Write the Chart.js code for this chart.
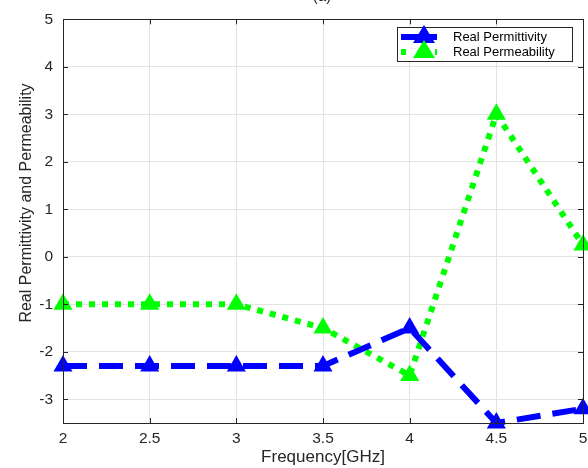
<!DOCTYPE html>
<html>
<head>
<meta charset="utf-8">
<script src="https://cdn.jsdelivr.net/npm/chart.js@4.4.1/dist/chart.umd.min.js"></script>
<style>
  html, body { margin: 0; padding: 0; background: #fff; overflow: hidden; }
  #wrap { width: 600px; height: 468px; }
</style>
</head>
<body>
<div id="wrap"><canvas id="chartCanvas" width="600" height="468"></canvas></div>
<script>
// data
const frequency = [2, 2.5, 3, 3.5, 4, 4.5, 5];
const permittivity = [-2.3, -2.3, -2.3, -2.3, -1.5, -3.5, -3.2];
const permeability = [-1, -1, -1, -1.5, -2.5, 3, 0.25];
const xTicks = [2, 2.5, 3, 3.5, 4, 4.5, 5];
const yTicks = [-3, -2, -1, 0, 1, 2, 3, 4, 5];
const yLabel = "Real Permittivity and Permeability";

const FONT = "'Liberation Sans', Arial, sans-serif";
const AXIS = "#262626";

// box around plot + inward ticks, like matlab
const boxPlugin = {
  id: "box",
  afterDatasetsDraw(chart) {
    const { ctx, chartArea: a, scales } = chart;
    ctx.save();
    ctx.strokeStyle = AXIS;
    ctx.lineWidth = 1;
    ctx.beginPath();
    xTicks.forEach(v => {
      const x = Math.round(scales.x.getPixelForValue(v)) + 0.5;
      ctx.moveTo(x, a.bottom); ctx.lineTo(x, a.bottom - 5);
      ctx.moveTo(x, a.top); ctx.lineTo(x, a.top + 5);
    });
    yTicks.forEach(v => {
      const y = Math.round(scales.y.getPixelForValue(v)) + 0.5;
      ctx.moveTo(a.left, y); ctx.lineTo(a.left + 5, y);
      ctx.moveTo(a.right, y); ctx.lineTo(a.right - 5, y);
    });
    ctx.stroke();
    ctx.strokeRect(Math.round(a.left) + 0.5, Math.round(a.top) + 0.5,
      Math.round(a.right - a.left), Math.round(a.bottom - a.top));
    ctx.fillStyle = AXIS;
    ctx.textAlign = "center";
    ctx.textBaseline = "middle";
    // title, cut off at the top of the figure
    ctx.font = "15px " + FONT;
    ctx.fillText("(a)", 322, -3);
    // y axis label (sits a bit above the axes centre in the original)
    ctx.font = "16px " + FONT;
    ctx.translate(27, 203);
    ctx.rotate(-Math.PI / 2);
    ctx.fillText(yLabel, 0, 0);
    ctx.restore();
  }
};

// legend box drawn inside the plot, top right
const legendPlugin = {
  id: "boxLegend",
  afterDraw(chart) {
    const { ctx } = chart;
    const x0 = 397, y0 = 27, w = 175, h = 34;
    ctx.save();
    ctx.fillStyle = "#fff";
    ctx.fillRect(x0, y0, w, h);
    ctx.strokeStyle = AXIS;
    ctx.lineWidth = 1;
    ctx.strokeRect(x0 + 0.5, y0 + 0.5, w, h);
    chart.data.datasets.forEach((ds, i) => {
      const y = y0 + 10 + i * 15;
      ctx.strokeStyle = ds.borderColor;
      ctx.lineWidth = 6;
      ctx.setLineDash(i === 0 ? [] : [5, 12]);
      ctx.beginPath();
      ctx.moveTo(x0 + 4, y); ctx.lineTo(x0 + 40, y);
      ctx.stroke();
      ctx.setLineDash([]);
      ctx.fillStyle = ds.borderColor;
      ctx.beginPath();
      ctx.moveTo(x0 + 27, y - 12);
      ctx.lineTo(x0 + 38, y + 6);
      ctx.lineTo(x0 + 16, y + 6);
      ctx.closePath();
      ctx.fill();
      ctx.fillStyle = "#000";
      ctx.font = "13px " + FONT;
      ctx.textAlign = "left";
      ctx.textBaseline = "middle";
      ctx.fillText(ds.label, x0 + 56, y);
    });
    ctx.restore();
  }
};

const toPoints = ys => frequency.map((x, i) => ({ x: x, y: ys[i] }));

new Chart(document.getElementById("chartCanvas"), {
  type: "line",
  data: {
    datasets: [
      {
        label: "Real Permittivity",
        data: toPoints(permittivity),
        borderColor: "#0000ff",
        backgroundColor: "#0000ff",
        borderWidth: 6,
        borderDash: [24, 12],
        pointStyle: "triangle",
        pointRadius: 11,
        pointBorderWidth: 0,
        tension: 0
      },
      {
        label: "Real Permeability",
        data: toPoints(permeability),
        borderColor: "#00ff00",
        backgroundColor: "#00ff00",
        borderWidth: 6,
        borderDash: [6, 7],
        pointStyle: "triangle",
        pointRadius: 11,
        pointBorderWidth: 0,
        tension: 0
      }
    ]
  },
  options: {
    responsive: false,
    animation: false,
    clip: false,
    layout: { padding: { top: 14, right: 17, left: 0, bottom: 0 } },
    plugins: {
      legend: { display: false },
      tooltip: { enabled: false }
    },
    scales: {
      x: {
        type: "linear",
        min: 2,
        max: 5,
        afterBuildTicks: s => { s.ticks = xTicks.map(v => ({ value: v })); },
        afterFit: s => { s.height = 45; },
        grid: { color: "#e3e3e3", drawTicks: false },
        border: { display: false },
        ticks: {
          color: AXIS, padding: 6,
          font: { family: FONT, size: 15.5 },
          callback: v => String(v)
        },
        title: {
          display: true, text: "Frequency[GHz]", color: AXIS,
          font: { family: FONT, size: 17 }, padding: { top: 0, bottom: 0 }
        }
      },
      y: {
        type: "linear",
        min: -3.5,
        max: 5,
        afterBuildTicks: s => { s.ticks = yTicks.map(v => ({ value: v })); },
        afterFit: s => { s.width = 63; },
        grid: { color: "#e3e3e3", drawTicks: false },
        border: { display: false },
        ticks: {
          color: AXIS, padding: 10,
          font: { family: FONT, size: 15.5 },
          callback: v => String(v)
        }
      }
    }
  },
  plugins: [boxPlugin, legendPlugin]
});
</script>
</body>
</html>
